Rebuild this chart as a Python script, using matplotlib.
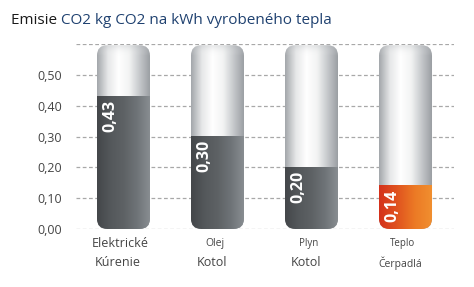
import numpy as np
import matplotlib
matplotlib.use("Agg")
import matplotlib.pyplot as plt
from matplotlib.patches import FancyBboxPatch
from matplotlib.colors import LinearSegmentedColormap

plt.rcParams['font.family'] = ['Open Sans', 'DejaVu Sans']

# data
values = [0.43, 0.30, 0.20, 0.14]
value_labels = ['0,43', '0,30', '0,20', '0,14']
line1 = ['Elektrické', 'Olej', 'Plyn', 'Teplo']
line2 = ['Kúrenie', 'Kotol', 'Kotol', 'Čerpadlá']
size1 = [9.0, 7.5, 7.0, 7.0]
size2 = [9.0, 9.0, 9.0, 7.5]
yticks = [0.0, 0.1, 0.2, 0.3, 0.4, 0.5]
ytick_labels = ['0,00', '0,10', '0,20', '0,30', '0,40', '0,50']
y_max = 0.6

fig = plt.figure(figsize=(4.74, 2.87), dpi=100)
ax = fig.add_axes([76 / 474, 58 / 287, 378 / 474, 185 / 287])
ax.set_xlim(-0.505, 3.516)
ax.set_ylim(0, y_max)
for s in ax.spines.values():
    s.set_visible(False)
ax.set_xticks([])
ax.set_yticks(yticks)
ax.set_yticklabels(ytick_labels, fontsize=9, color='#444444')
ax.tick_params(axis='y', length=0, pad=10)

# dashed gridlines, including the top one
for g in yticks + [y_max]:
    ax.axhline(g, color='#a8a8a8', lw=0.9, ls=(0, (3, 2)), zorder=0)

bar_w = 0.564
rx = 0.11          # corner radius in x data units
ry = 0.034         # corner radius in y data units
aspect = ry / rx

shell_cmap = LinearSegmentedColormap.from_list('shell', ['#a4a8ac', '#e6e7e8', '#ffffff', '#f2f3f3', '#c4c7ca', '#989ca0'])
dark_cmap = LinearSegmentedColormap.from_list('dark', ['#44474a', '#54585b', '#5e6265', '#6f7478', '#8a8f93'])
orange_cmap = LinearSegmentedColormap.from_list('orange', ['#d4311b', '#e0531f', '#ec7a25', '#f19030'])
grad = np.linspace(0, 1, 100).reshape(1, -1)
vgrad = np.linspace(0, 1, 100).reshape(-1, 1)
top_cmap = LinearSegmentedColormap.from_list('t', [(1, 1, 1, 0), (0.6, 0.62, 0.64, 0.35)])

for i, v in enumerate(values):
    x0 = i - bar_w / 2
    capsule = FancyBboxPatch((x0, 0), bar_w, y_max - 0.004,
                             boxstyle='round,pad=0,rounding_size=%f' % rx,
                             mutation_aspect=aspect, fc='none', ec='none', zorder=2)
    ax.add_patch(capsule)
    im = ax.imshow(grad, cmap=shell_cmap, extent=(x0, x0 + bar_w, 0, y_max), aspect='auto', zorder=2)
    im.set_clip_path(capsule)
    # subtle top shading
    top = ax.imshow(vgrad, cmap=top_cmap, extent=(x0, x0 + bar_w, y_max - 0.04, y_max),
                    aspect='auto', origin='lower', zorder=2.1)
    top.set_clip_path(capsule)
    cmap = orange_cmap if i == 3 else dark_cmap
    fill = ax.imshow(grad, cmap=cmap, extent=(x0, x0 + bar_w, 0, v), aspect='auto', zorder=3)
    fill.set_clip_path(capsule)
    ax.text(i - 0.14, v - 0.012, value_labels[i], rotation=90, ha='center', va='top',
            color='white', fontsize=11.5, fontweight='bold', zorder=4)
    ax.text(i - 0.03, -0.048, line1[i], ha='center', va='center', fontsize=size1[i],
            color='#444444', clip_on=False)
    ax.text(i - 0.06, -0.110, line2[i], ha='center', va='center', fontsize=size2[i],
            color='#444444', clip_on=False)

# title with two colours
t1 = fig.text(11 / 474, 1 - 20 / 287, 'Emisie ', fontsize=11, color='#1a1a1a', va='center')
fig.canvas.draw()
bb = t1.get_window_extent()
fig.text(bb.x1 / fig.bbox.width, 1 - 20 / 287, 'CO2 kg CO2 na kWh vyrobeného tepla',
         fontsize=11, color='#1f4170', va='center')

fig.savefig('out.png', dpi=100, facecolor='white')
